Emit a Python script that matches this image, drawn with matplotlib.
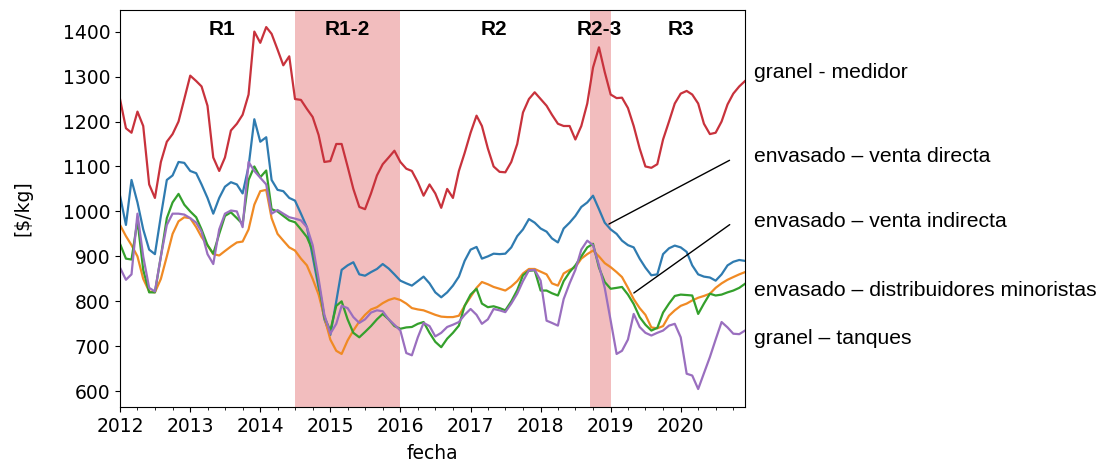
import pandas as pd
import matplotlib
matplotlib.use('Agg')
from matplotlib import pyplot as plt
import matplotlib.dates as mdates

fechas = pd.date_range('2012-01-01', '2020-12-01', freq='MS')

granel_medidor = [
    1250, 1185, 1175, 1222, 1190, 1060, 1030, 1110, 1155, 1172, 1200, 1250,
    1302, 1290, 1278, 1235, 1120, 1090, 1120, 1180, 1195, 1215, 1260, 1400,
    1375, 1410, 1395, 1360, 1325, 1345, 1250, 1248, 1228, 1210, 1170, 1110,
    1112, 1150, 1150, 1100, 1050, 1010, 1005, 1040, 1080, 1105, 1120, 1135,
    1110, 1095, 1090, 1065, 1035, 1060, 1040, 1008, 1050, 1030, 1090, 1130,
    1175, 1213, 1190, 1140, 1100, 1088, 1087, 1110, 1150, 1220, 1250, 1265,
    1250, 1235, 1215, 1195, 1190, 1190, 1160, 1190, 1240, 1320, 1365, 1310,
    1260, 1252, 1253, 1230, 1190, 1140, 1100, 1097, 1105, 1160, 1200, 1240,
    1262, 1268, 1260, 1240, 1195, 1172, 1175, 1200, 1238, 1262, 1278, 1290,
]
venta_directa = [
    1035, 970, 1070, 1020, 960, 915, 905, 990, 1070, 1080, 1110, 1108,
    1090, 1085, 1060, 1030, 995, 1030, 1055, 1065, 1060, 1040, 1100, 1205,
    1155, 1165, 1070, 1048, 1045, 1030, 1024, 995, 965, 900, 830, 760,
    725, 800, 870, 880, 887, 860, 857, 865, 872, 883, 873, 860,
    846, 840, 835, 845, 855, 840, 820, 809, 820, 835, 855, 890,
    915, 921, 895, 900, 906, 905, 906, 920, 945, 960, 983, 975,
    962, 955, 940, 931, 962, 975, 990, 1010, 1020, 1035, 1005, 975,
    960, 950, 935, 925, 920, 895, 875, 858, 860, 905, 918, 924,
    920, 910, 880, 860, 855, 853, 846, 860, 880, 888, 892, 890,
]
venta_indirecta = [
    970, 945, 925, 900, 850, 822, 820, 850, 900, 950, 978, 987,
    985, 965, 943, 925, 905, 902, 912, 922, 931, 933, 960, 1015,
    1045, 1048, 985, 950, 935, 920, 913, 895, 880, 850, 815, 765,
    715, 690, 683, 713, 735, 755, 770, 782, 787, 796, 803, 807,
    803, 795, 785, 782, 780, 775, 770, 766, 765, 765, 768, 790,
    810, 830, 843, 838, 832, 828, 824, 833, 845, 862, 872, 872,
    866, 860, 840, 835, 862, 870, 876, 895, 905, 913, 900, 885,
    876, 865, 854, 830, 805, 785, 770, 742, 740, 745, 768, 780,
    790, 795, 802, 808, 812, 817, 830, 840, 848, 854, 860, 865,
]
distribuidores = [
    928, 895, 893, 980, 870, 820, 820, 900, 985, 1020, 1039, 1015,
    1000, 987, 960, 925, 906, 950, 990, 998, 985, 972, 1070, 1100,
    1076, 1091, 1005, 1000, 990, 980, 976, 960, 943, 913, 840, 765,
    735, 790, 800, 760, 730, 720, 732, 745, 760, 772, 760, 745,
    739, 742, 743, 750, 754, 730, 710, 698, 717, 730, 746, 790,
    815, 828, 795, 787, 789, 785, 780, 800, 825, 858, 868, 869,
    824, 824, 818, 813, 845, 865, 880, 900, 920, 928, 875, 843,
    828, 830, 832, 815, 794, 765, 748, 735, 741, 775, 795, 812,
    815, 814, 813, 772, 795, 817, 813, 815, 820, 824, 830, 839,
]
granel_tanques = [
    875, 848, 860, 995, 900, 830, 822, 900, 970, 995, 995, 993,
    985, 975, 955, 905, 883, 960, 995, 1002, 1000, 965, 1110, 1090,
    1075, 1060, 995, 1003, 995, 987, 984, 980, 965, 925, 850, 770,
    728, 750, 790, 785, 765, 752, 760, 775, 780, 778, 760, 748,
    735, 685, 680, 720, 752, 745, 722, 730, 743, 748, 754, 770,
    783, 770, 750, 760, 783, 780, 776, 795, 817, 845, 869, 870,
    846, 757, 752, 746, 805, 840, 870, 915, 935, 925, 880, 830,
    757, 683, 690, 715, 772, 743, 730, 724, 730, 735, 746, 750,
    720, 639, 635, 605, 640, 676, 715, 754, 742, 728, 727, 735,
]

series = [granel_medidor, venta_directa, venta_indirecta, distribuidores, granel_tanques]
colores = ['#c8323c', '#2f7bb0', '#f08a24', '#34a02c', '#9a6fbf']
etiquetas = ['granel - medidor', 'envasado \u2013 venta directa',
             'envasado \u2013 venta indirecta',
             'envasado \u2013 distribuidores minoristas', 'granel \u2013 tanques']
etiqueta_y = [73, 157, 222, 290, 338]   # pixel rows of the labels

regiones = ['R1', 'R1-2', 'R2', 'R2-3', 'R3']
region_x = ['2013-06-15', '2015-04-01', '2017-05-01', '2018-11-01', '2020-01-01']
sombras = [('2014-07-01', '2016-01-01'), ('2018-09-15', '2019-01-01')]

W, H = 1118, 463
fig = plt.figure(figsize=(W / 100, H / 100), dpi=100)
ax = fig.add_axes([120 / W, 1 - 407 / H, 625 / W, 397 / H])

for ini, fin in sombras:
    ax.axvspan(pd.Timestamp(ini), pd.Timestamp(fin), color='tab:red', alpha=0.3, lw=0)

for s, c in zip(series, colores):
    ax.plot(fechas, s, color=c, lw=1.6)

ax.set_xlim(fechas[0], fechas[-1])
ax.set_ylim(565, 1448)
ax.set_yticks([600, 700, 800, 900, 1000, 1100, 1200, 1300, 1400])
ax.xaxis.set_major_locator(mdates.YearLocator())
ax.xaxis.set_major_formatter(mdates.DateFormatter('%Y'))
ax.xaxis.set_minor_locator(mdates.MonthLocator(bymonth=[4, 7, 10]))
ax.tick_params(labelsize=13.5)
ax.set_xlabel('fecha', fontsize=13.5, labelpad=6)
ax.set_ylabel(r'[\$/kg]', fontsize=13.5, labelpad=22)

for r, x in zip(regiones, region_x):
    ax.text(pd.Timestamp(x), 1405, r, ha='center', va='center', fontsize=15,
            fontweight='bold', family='Liberation Sans')

for t, y in zip(etiquetas, etiqueta_y):
    fig.text(754 / W, 1 - y / H, t, ha='left', va='center', fontsize=15.2,
             family='Liberation Sans')

ax.annotate('', xy=(pd.Timestamp('2018-12-10'), 969), xycoords='data',
            xytext=(732 / W, 1 - 159 / H), textcoords='figure fraction',
            arrowprops=dict(arrowstyle='-', color='black', lw=1), annotation_clip=False)
ax.annotate('', xy=(pd.Timestamp('2019-04-20'), 815), xycoords='data',
            xytext=(732 / W, 1 - 223 / H), textcoords='figure fraction',
            arrowprops=dict(arrowstyle='-', color='black', lw=1), annotation_clip=False)

plt.savefig('out.png', dpi=100)
